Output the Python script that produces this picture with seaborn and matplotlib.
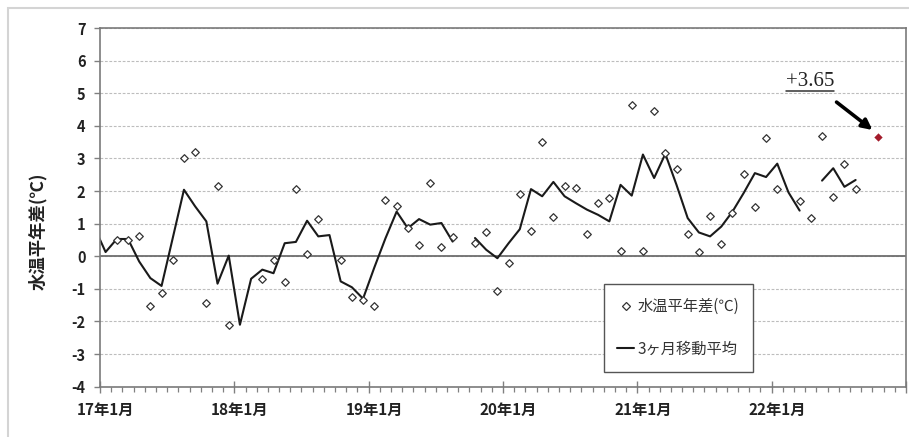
import numpy as np
import pandas as pd
import matplotlib
matplotlib.use('Agg')
import matplotlib.pyplot as plt
from matplotlib.lines import Line2D
from matplotlib.patches import Rectangle
import seaborn as sns

nan = np.nan

# monthly series, 2016-12 .. 2022-10
start_month = '2016-12'

# 水温平年差 (diamonds)
anomaly = [nan,
           nan, 0.49, 0.51, 0.63, -1.54, -1.13, -0.11, 3.01, 3.20, -1.44, 2.17, -2.11,   # 2017
           nan, nan, -0.69, -0.11, -0.79, 2.07, 0.06, 1.15, nan, -0.11, -1.24, -1.33,     # 2018
           -1.54, 1.73, 1.55, 0.86, 0.35, 2.25, 0.27, 0.58, nan, 0.42, 0.73, -1.08,       # 2019
           -0.20, 1.92, 0.79, 3.49, 1.20, 2.17, 2.09, 0.68, 1.63, 1.78, 0.16, 4.65,       # 2020
           0.17, 4.44, 3.16, 2.68, 0.69, 0.12, 1.22, 0.38, 1.32, 2.52, 1.50, 3.63,        # 2021
           2.07, nan, 1.68, 1.17, 3.70, 1.82, 2.84, 2.06, nan, 3.65]                      # 2022

# 3ヶ月移動平均 (line)
ma3 = [0.89,
       0.13, 0.53, 0.53, -0.16, -0.67, -0.91, 0.56, 2.04, 1.53, 1.07, -0.84, 0.02,      # 2017
       -2.10, -0.69, -0.41, -0.52, 0.40, 0.44, 1.09, 0.61, 0.65, -0.77, -0.95, -1.30,   # 2018
       -0.35, 0.55, 1.37, 0.86, 1.14, 0.97, 1.02, 0.45, nan, 0.56, 0.20, -0.06,         # 2019
       0.40, 0.83, 2.06, 1.84, 2.28, 1.84, 1.63, 1.43, 1.27, 1.07, 2.19, 1.86,          # 2020
       3.12, 2.40, 3.14, 2.19, 1.17, 0.73, 0.61, 0.91, 1.37, 1.94, 2.55, 2.43,          # 2021
       2.84, 1.96, 1.40, nan, 2.32, 2.70, 2.13, 2.34, nan, nan]                         # 2022

year_labels = ['17年1月', '18年1月', '19年1月', '20年1月', '21年1月', '22年1月']
latest_text = '+3.65'

sns.set_theme(style='white')
plt.rcParams['font.family'] = ['Noto Sans CJK JP', 'DejaVu Sans']
plt.rcParams['axes.unicode_minus'] = False

months = pd.period_range(start_month, periods=len(anomaly), freq='M')
# months counted from 17年1月, each value sits in the middle of its month
xpos = np.array([(m.year - 2017) * 12 + m.month - 1 for m in months]) + 0.5
df = pd.DataFrame({'x': xpos, 'anomaly': anomaly, 'ma3': ma3})
df['seg'] = df['ma3'].isna().cumsum()

fig = plt.figure(figsize=(9.09, 4.37), dpi=100)
ax = fig.add_axes([0.110, 0.1151, 0.8867, 0.8208])

# moving average, broken where months are missing
sns.lineplot(data=df.dropna(subset=['ma3']), x='x', y='ma3', units='seg',
             estimator=None, sort=False, color='#1a1a1a', lw=1.5, ax=ax,
             legend=False, zorder=2)

last = df['anomaly'].last_valid_index()
pts = df.dropna(subset=['anomaly']).drop(index=last)
sns.scatterplot(data=pts, x='x', y='anomaly', marker='D', s=15, color='white',
                edgecolor='#333333', linewidth=0.9, ax=ax, zorder=3, legend=False)
sns.scatterplot(data=df.loc[[last]], x='x', y='anomaly', marker='D', s=18,
                color='#a31b2b', linewidth=0, ax=ax, zorder=4, legend=False)

ax.set_xlim(0, 72)
ax.set_ylim(-4, 7)
ax.set_yticks(range(-4, 8))
ax.set_xticks(np.arange(0, 73, 12))
ax.set_xticks(np.arange(0, 73), minor=True)
ax.set_xlabel('')
ax.set_ylabel('')

ax.tick_params(which='both', bottom=True, left=True)
ax.tick_params(axis='x', which='major', direction='inout', length=8, width=1,
               color='#808080', labelbottom=False)
ax.tick_params(axis='x', which='minor', direction='out', length=3.5, width=0.9,
               color='#808080')
ax.tick_params(axis='y', direction='out', length=4.5, width=1, color='#808080',
               labelsize=10.5, pad=6, labelcolor='#222222')
for lab in ax.get_yticklabels():
    lab.set_fontweight('bold')

# year labels centred on the January slot
for i, lab in enumerate(year_labels):
    ax.text(i * 12 + 0.5, -0.065, lab, transform=ax.get_xaxis_transform(),
            ha='center', va='center', fontsize=11, fontweight='bold', color='#222222')

ax.set_axisbelow(True)
ax.yaxis.grid(True, linestyle=(0, (2.5, 1.5)), color='#bdbdbd', lw=0.8)
ax.xaxis.grid(False)
ax.axhline(0, color='#6e6e6e', lw=1.3, zorder=1.5)
for sp in ax.spines.values():
    sp.set_visible(True)
    sp.set_color('#7a7a7a')
    sp.set_linewidth(1.2)

fig.text(0.042, 0.47, '水温平年差(℃)', rotation=90, ha='center', va='center',
         fontsize=12.5, fontweight='bold', color='#222222')

handles = [Line2D([], [], marker='D', ls='none', markersize=3.7, mfc='white',
                  mec='#333333', mew=0.9),
           Line2D([], [], color='#1a1a1a', lw=1.5)]
leg = ax.legend(handles, ['水温平年差(℃)', '3ヶ月移動平均'], loc='upper left',
                bbox_to_anchor=(0.625, 0.286), fontsize=11, frameon=True,
                fancybox=False, borderpad=0.9, labelspacing=1.7,
                handlelength=1.1, handletextpad=0.2, borderaxespad=0)
leg.get_frame().set_edgecolor('#555555')
leg.get_frame().set_linewidth(1.0)
leg.get_frame().set_alpha(1)
for t in leg.get_texts():
    t.set_color('#333333')

# callout for the latest month
ax.annotate('', xy=(69.2, 3.82), xytext=(65.6, 4.78),
            arrowprops=dict(arrowstyle='-|>', color='black', lw=2.6, mutation_scale=15))
txt = ax.text(63.4, 5.35, latest_text, ha='center', va='center', fontsize=15,
              family='Liberation Serif', color='#222222')

fig.canvas.draw()
bb = fig.transFigure.inverted().transform(txt.get_window_extent())
fig.add_artist(Line2D([bb[0, 0], bb[1, 0]], [bb[0, 1], bb[0, 1]],
                      transform=fig.transFigure, color='#333333', lw=1.1))

# light outer frame of the original chart
fig.add_artist(Rectangle((8 / 909, -0.05), 1.0, 1 - 8 / 437 + 0.05,
                         transform=fig.transFigure, fill=False,
                         edgecolor='#d4d4d4', lw=1.5))

fig.savefig('out.png', dpi=100)
